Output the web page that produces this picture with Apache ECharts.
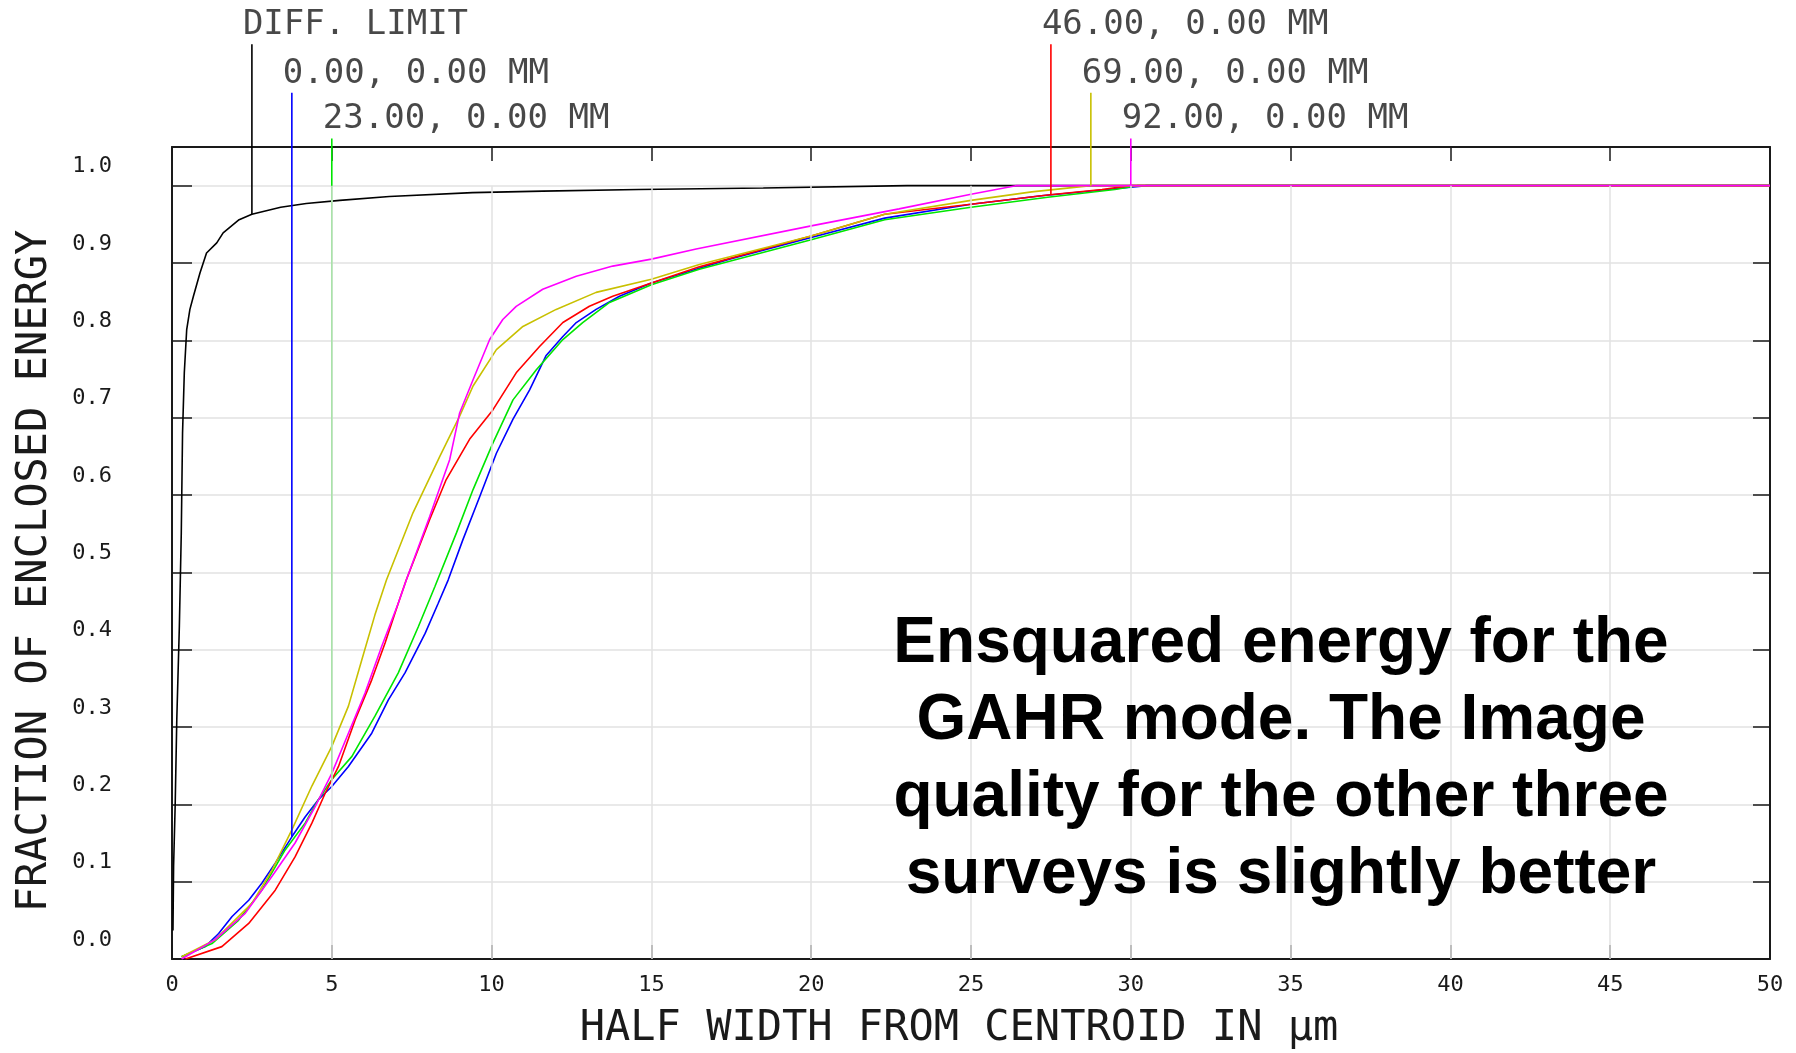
<!DOCTYPE html>
<html>
<head>
<meta charset="utf-8">
<title>Ensquared energy</title>
<script src="https://cdn.jsdelivr.net/npm/echarts@6/dist/echarts.min.js"></script>
<style>
  html, body { margin: 0; padding: 0; background: #fff; }
  #chart { width: 1796px; height: 1053px; }
</style>
</head>
<body>
<div id="chart"></div>
<script>
// half width from centroid (um) -> fraction of enclosed energy
const diffX = [0.03, 0.05, 0.1, 0.15, 0.23, 0.29, 0.33, 0.385, 0.46, 0.56, 0.67, 0.875, 1.08, 1.4, 1.6, 2.1, 2.5, 3.4, 4.2, 5.25, 6.8, 9.4, 11.6, 14.6, 18.5, 23, 50];
const diffY = [0.037, 0.12, 0.2, 0.31, 0.43, 0.55, 0.68, 0.758, 0.814, 0.84, 0.857, 0.887, 0.913, 0.926, 0.939, 0.956, 0.963, 0.972, 0.977, 0.981, 0.986, 0.991, 0.993, 0.995, 0.997, 1.0, 1.0];

const blueX = [0.3, 1.04, 1.46, 1.88, 2.4, 2.81, 3.23, 3.75, 4.17, 4.58, 5.0, 5.52, 6.25, 6.77, 7.29, 7.92, 8.33, 8.64, 9.1, 9.63, 10.15, 10.67, 11.19, 11.7, 12.23, 12.65, 13.27, 14.0, 15.0, 16.4, 17.44, 20, 22.3, 25, 27.2, 29.5, 30.5, 50];
const blueY = [0.003, 0.016, 0.033, 0.055, 0.076, 0.098, 0.124, 0.158, 0.184, 0.206, 0.223, 0.249, 0.292, 0.335, 0.37, 0.421, 0.46, 0.49, 0.542, 0.598, 0.654, 0.698, 0.736, 0.78, 0.805, 0.823, 0.84, 0.857, 0.874, 0.892, 0.905, 0.933, 0.958, 0.976, 0.987, 0.996, 1.0, 1.0];

const greenX = [0.3, 1.25, 2.08, 2.81, 3.54, 4.17, 4.58, 5.0, 5.63, 6.35, 7.08, 7.71, 8.23, 8.9, 9.42, 10.04, 10.67, 11.4, 12.23, 12.85, 13.69, 15.0, 16.5, 20, 22.3, 25, 27.4, 29.5, 30.2, 50];
const greenY = [0.003, 0.02, 0.05, 0.089, 0.141, 0.176, 0.206, 0.232, 0.262, 0.314, 0.37, 0.43, 0.482, 0.551, 0.607, 0.667, 0.723, 0.762, 0.801, 0.823, 0.849, 0.872, 0.892, 0.93, 0.956, 0.972, 0.985, 0.995, 1.0, 1.0];

const redX = [0.42, 1.56, 2.4, 3.23, 3.85, 4.38, 4.79, 5.21, 5.73, 6.25, 6.67, 7.08, 7.33, 8.06, 8.58, 9.31, 10.04, 10.77, 11.5, 12.23, 13.06, 13.79, 15.0, 16.5, 20, 22.3, 25, 27.4, 29.1, 30.0, 50];
const redY = [0.0, 0.016, 0.046, 0.089, 0.132, 0.176, 0.214, 0.249, 0.309, 0.361, 0.409, 0.46, 0.49, 0.568, 0.62, 0.672, 0.71, 0.758, 0.792, 0.823, 0.844, 0.857, 0.874, 0.895, 0.935, 0.963, 0.976, 0.988, 0.995, 1.0, 1.0];

const yellowX = [0.3, 1.35, 2.5, 3.13, 3.75, 4.38, 5.0, 5.52, 5.94, 6.35, 6.71, 7.54, 8.38, 9.0, 9.42, 10.15, 10.98, 12.02, 13.27, 15.0, 16.5, 20, 22.3, 25, 26.9, 28.75, 50];
const yellowY = [0.003, 0.025, 0.072, 0.115, 0.167, 0.224, 0.275, 0.327, 0.387, 0.445, 0.49, 0.577, 0.65, 0.702, 0.741, 0.788, 0.818, 0.84, 0.862, 0.879, 0.898, 0.935, 0.963, 0.981, 0.992, 1.0, 1.0];

const magentaX = [0.3, 1.35, 2.29, 3.13, 3.85, 4.48, 5.0, 5.52, 6.04, 6.56, 7.08, 7.33, 8.06, 8.69, 9.0, 9.42, 9.94, 10.35, 10.77, 11.6, 12.65, 13.79, 15.0, 16.4, 20, 22.75, 25, 26.4, 50];
const magentaY = [0.0, 0.025, 0.059, 0.107, 0.15, 0.197, 0.24, 0.292, 0.344, 0.404, 0.46, 0.49, 0.572, 0.646, 0.706, 0.749, 0.801, 0.827, 0.844, 0.866, 0.883, 0.896, 0.905, 0.918, 0.948, 0.97, 0.989, 1.0, 1.0];

// field labels with their leader lines (x, where the leader meets the curve, where it ends above the frame)
const fieldLabels = ['DIFF. LIMIT', '0.00, 0.00 MM', '23.00, 0.00 MM', '46.00, 0.00 MM', '69.00, 0.00 MM', '92.00, 0.00 MM'];
const leaderX = [2.5, 3.75, 5.0, 27.5, 28.75, 30.0];
const leaderBottom = [0.963, 0.158, 0.232, 0.988, 1.0, 1.0];
const leaderTop = [1.183, 1.12, 1.061, 1.183, 1.12, 1.061];

const curveColors = ['#000000', '#0000ff', '#00e600', '#ff0000', '#c8c000', '#ff00ff'];
const xGridTicks = [5, 10, 15, 20, 25, 30, 35, 40, 45];

const monoFont = 'DejaVu Sans Mono';
const gridColor = '#e2e2e2';
const frameColor = '#1a1a1a';

function pairs(xs, ys) {
  return xs.map((x, i) => [x, ys[i]]);
}

const curves = [
  pairs(diffX, diffY),
  pairs(blueX, blueY),
  pairs(greenX, greenY),
  pairs(redX, redY),
  pairs(yellowX, yellowY),
  pairs(magentaX, magentaY)
];

const series = [];

// vertical grid lines only run up to 1.0
series.push({
  type: 'line',
  data: [],
  z: 1,
  silent: true,
  markLine: {
    silent: true,
    symbol: 'none',
    label: { show: false },
    lineStyle: { color: gridColor, width: 1.5, type: 'solid' },
    data: xGridTicks.map(v => [{ coord: [v, 0] }, { coord: [v, 1] }])
  }
});

curves.forEach((d, i) => {
  series.push({
    type: 'line',
    data: d,
    showSymbol: false,
    symbol: 'none',
    z: 3,
    lineStyle: { color: curveColors[i], width: 1.6 }
  });
});

leaderX.forEach((x, i) => {
  series.push({
    type: 'line',
    data: [[x, leaderBottom[i]], [x, leaderTop[i]]],
    showSymbol: false,
    symbol: 'none',
    clip: false,
    z: 4,
    lineStyle: { color: curveColors[i], width: 1.6 }
  });
});

series.push({
  type: 'scatter',
  clip: false,
  symbolSize: 0,
  itemStyle: { color: 'transparent' },
  silent: true,
  data: leaderX.map((x, i) => ({ value: [x, leaderTop[i]], name: fieldLabels[i] })),
  label: {
    show: true,
    position: 'top',
    align: 'left',
    distance: 2,
    offset: [-9, 0],
    formatter: '{b}',
    fontFamily: monoFont,
    fontSize: 34,
    color: frameColor
  }
});

const chart = echarts.init(document.getElementById('chart'));
chart.setOption({
  animation: false,
  backgroundColor: '#fff',
  grid: { left: 172, right: 26, top: 147, bottom: 94, outerBoundsMode: 'none' },
  xAxis: [
    {
      type: 'value',
      position: 'bottom',
      min: 0,
      max: 50,
      interval: 5,
      name: 'HALF WIDTH FROM CENTROID IN µm',
      nameLocation: 'middle',
      nameGap: 49,
      nameTextStyle: { fontFamily: monoFont, fontSize: 42, color: frameColor, padding: [0, 24, 0, 0] },
      axisLine: { onZero: false, lineStyle: { color: frameColor, width: 2 } },
      axisTick: { inside: true, length: 14, lineStyle: { color: frameColor, width: 1.5 } },
      axisLabel: { margin: 15, fontFamily: monoFont, fontSize: 22, color: frameColor },
      splitLine: { show: false }
    },
    {
      type: 'value',
      position: 'top',
      min: 0,
      max: 50,
      interval: 5,
      axisLine: { onZero: false, lineStyle: { color: frameColor, width: 2 } },
      axisTick: { inside: true, length: 14, lineStyle: { color: frameColor, width: 1.5 } },
      axisLabel: { show: false },
      splitLine: { show: false }
    }
  ],
  yAxis: [
    {
      type: 'value',
      position: 'left',
      min: 0,
      max: 1.05,
      interval: 0.1,
      name: 'FRACTION OF ENCLOSED ENERGY',
      nameLocation: 'middle',
      nameRotate: 90,
      nameGap: 116,
      nameTextStyle: { fontFamily: monoFont, fontSize: 42, color: frameColor, padding: [0, 36, 0, 0] },
      axisLine: { onZero: false, lineStyle: { color: frameColor, width: 2 } },
      axisTick: { inside: true, length: 20, lineStyle: { color: frameColor, width: 1.5 } },
      axisLabel: {
        margin: 60,
        fontFamily: monoFont,
        fontSize: 22,
        color: frameColor,
        showMaxLabel: false,
        verticalAlign: 'bottom',
        lineHeight: 22,
        padding: [0, 0, 8, 0],
        formatter: v => v.toFixed(1)
      },
      splitLine: { show: true, lineStyle: { color: gridColor, width: 1.5 } }
    },
    {
      type: 'value',
      position: 'right',
      min: 0,
      max: 1.05,
      interval: 0.1,
      axisLine: { onZero: false, lineStyle: { color: frameColor, width: 2 } },
      axisTick: { inside: true, length: 17, lineStyle: { color: frameColor, width: 1.5 } },
      axisLabel: { show: false },
      splitLine: { show: false }
    }
  ],
  graphic: [
    {
      type: 'text',
      x: 1281,
      y: 760,
      z: 10,
      style: {
        text: 'Ensquared energy for the\nGAHR mode. The Image\nquality for the other three\nsurveys is slightly better',
        align: 'center',
        verticalAlign: 'middle',
        fontFamily: 'Liberation Sans',
        fontWeight: 'bold',
        fontSize: 64,
        lineHeight: 77,
        fill: '#000'
      }
    }
  ],
  series: series
});
</script>
</body>
</html>
